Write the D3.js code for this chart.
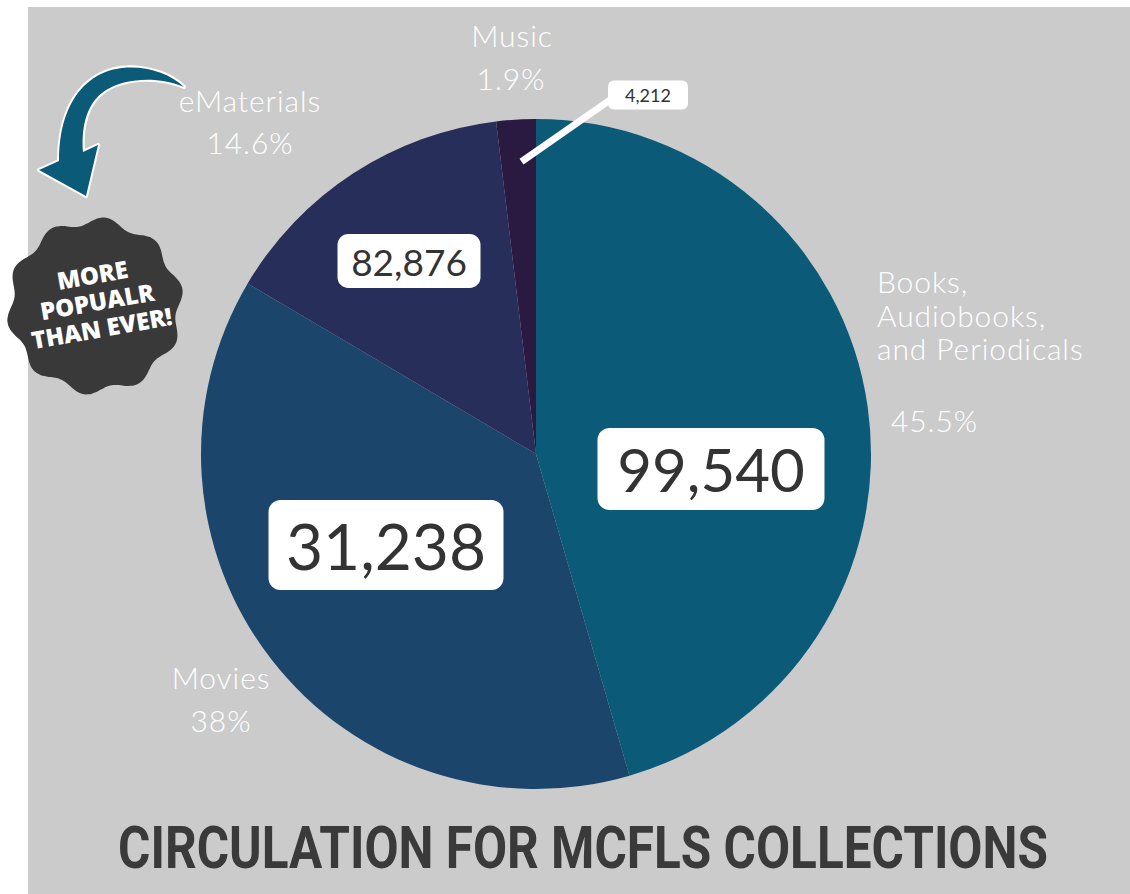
<!DOCTYPE html>
<html>
<head>
<meta charset="utf-8">
<script src="https://cdn.jsdelivr.net/npm/d3@7"></script>
<style>
  body { margin: 0; background: #fff; }
  svg { display: block; }
</style>
</head>
<body>
<script>
const width = 1130;
const height = 894;

// data
const categories = ["Books, Audiobooks, and Periodicals", "Movies", "eMaterials", "Music"];
const percents = [45.5, 38, 14.6, 1.9];
const counts = [99540, 31238, 82876, 4212];
const percentLabels = ["45.5%", "38%", "14.6%", "1.9%"];
const nameLines = [["Books,", "Audiobooks,", "and Periodicals"], ["Movies"], ["eMaterials"], ["Music"]];
const colors = ["#0a5a78", "#1b456b", "#272e5a", "#2a1a41"];
const badgeLines = ["MORE", "POPUALR", "THAN EVER!"];
const title = "CIRCULATION FOR MCFLS COLLECTIONS";

const cx = 536;
const cy = 454;
const radius = 335;

// where the annotation boxes and names sit
const boxLayout = [
    {x: 711, y: 469, w: 227, h: 82, size: 60},
    {x: 386, y: 545, w: 235, h: 90, size: 64},
    {x: 409, y: 261, w: 143, h: 54, size: 37},
    {x: 648, y: 95, w: 80, h: 29, size: 18}
];
const nameLayout = [
    {x: 877, y: 293, anchor: "start", lh: 33.5, pctX: 891, pctY: 432},
    {x: 221, y: 689, anchor: "middle", lh: 0, pctX: 221, pctY: 732},
    {x: 250, y: 112, anchor: "middle", lh: 0, pctX: 250, pctY: 154},
    {x: 512, y: 47, anchor: "middle", lh: 0, pctX: 511, pctY: 90}
];

const svg = d3.select("body").append("svg")
    .attr("width", width)
    .attr("height", height);

svg.append("rect")
    .attr("x", 28)
    .attr("y", 7)
    .attr("width", width - 28)
    .attr("height", height - 7)
    .attr("fill", "#cbcbcb");

const pie = d3.pie().sort(null).value(d => d);
const arcs = pie(percents);
const arc = d3.arc().innerRadius(0).outerRadius(radius);

const chart = svg.append("g").attr("transform", `translate(${cx},${cy})`);
chart.selectAll("path.slice")
    .data(arcs)
    .join("path")
    .attr("class", "slice")
    .attr("d", arc)
    .attr("fill", (d, i) => colors[i]);

// leader line for the tiny Music slice
const musicArc = arcs[3];
const leaderStart = d3.arc().innerRadius(radius - 42).outerRadius(radius - 42).centroid(musicArc);
svg.append("line")
    .attr("x1", cx + leaderStart[0] + 3)
    .attr("y1", cy + leaderStart[1])
    .attr("x2", boxLayout[3].x - boxLayout[3].w / 2 + 2)
    .attr("y2", boxLayout[3].y + 5)
    .attr("stroke", "#fff")
    .attr("stroke-width", 7);

// value boxes
const boxes = svg.selectAll("g.box")
    .data(counts)
    .join("g")
    .attr("class", "box")
    .attr("transform", (d, i) => `translate(${boxLayout[i].x},${boxLayout[i].y})`);
boxes.append("rect")
    .attr("x", (d, i) => -boxLayout[i].w / 2)
    .attr("y", (d, i) => -boxLayout[i].h / 2)
    .attr("width", (d, i) => boxLayout[i].w)
    .attr("height", (d, i) => boxLayout[i].h)
    .attr("rx", (d, i) => Math.min(12, boxLayout[i].h / 5))
    .attr("fill", "#fff");
boxes.append("text")
    .attr("text-anchor", "middle")
    .attr("dominant-baseline", "central")
    .attr("font-family", "Lato, sans-serif")
    .attr("font-weight", 400)
    .attr("font-size", (d, i) => boxLayout[i].size)
    .attr("fill", "#333")
    .text(d => d3.format(",")(d));

// category names and shares
const names = svg.selectAll("g.name")
    .data(categories)
    .join("g")
    .attr("class", "name")
    .attr("font-family", "Lato, sans-serif")
    .attr("font-weight", 300)
    .attr("font-size", 30)
    .attr("letter-spacing", 0.9)
    .attr("fill", "#fff");
names.append("text")
    .attr("text-anchor", (d, i) => nameLayout[i].anchor)
    .selectAll("tspan")
    .data((d, i) => nameLines[i].map((t, k) => ({t, k, i})))
    .join("tspan")
    .attr("x", d => nameLayout[d.i].x)
    .attr("y", d => nameLayout[d.i].y + d.k * nameLayout[d.i].lh)
    .text(d => d.t);
names.append("text")
    .attr("text-anchor", (d, i) => nameLayout[i].anchor)
    .attr("x", (d, i) => nameLayout[i].pctX)
    .attr("y", (d, i) => nameLayout[i].pctY)
    .text((d, i) => percentLabels[i]);

// curved arrow pointing at the badge
svg.append("path")
    .attr("d", "M184,87 C165,68 124,60 97,76 C70,92 59,124 59,161 L39,170 L86,196 L98,145 L83,152 C81,126 87,102 106,90 C126,78 158,76 184,87 Z")
    .attr("fill", "#0a5a78")
    .attr("stroke", "#fff")
    .attr("stroke-width", 4)
    .attr("stroke-linejoin", "round")
    .attr("paint-order", "stroke");

// wavy badge
const badgeX = 95;
const badgeY = 306;
const badgePts = d3.range(0, 360, 2).map(a => {
    const t = a * Math.PI / 180;
    return [t, 85 + 4 * Math.sin(10 * t + 0.4)];
});
svg.append("path")
    .attr("transform", `translate(${badgeX},${badgeY})`)
    .attr("d", d3.lineRadial().curve(d3.curveCardinalClosed)(badgePts))
    .attr("fill", "#3a3939");

svg.append("g")
    .attr("transform", `translate(97,301) rotate(-10)`)
    .selectAll("text")
    .data(badgeLines)
    .join("text")
    .attr("y", (d, i) => (i - 1) * 27)
    .attr("text-anchor", "middle")
    .attr("dominant-baseline", "central")
    .attr("font-family", "'Open Sans', sans-serif")
    .attr("font-weight", 800)
    .attr("font-size", 24)
    .attr("fill", "#fff")
    .text(d => d);

// title, squeezed to the condensed width of the original
const titleText = svg.append("text")
    .attr("text-anchor", "middle")
    .attr("font-family", "Roboto, sans-serif")
    .attr("font-weight", 700)
    .attr("font-size", 60)
    .attr("fill", "#3a3a3a")
    .text(title);
const natural = titleText.node().getComputedTextLength();
titleText.attr("transform", `translate(583,868) scale(${930 / natural},1)`);
</script>
</body>
</html>
